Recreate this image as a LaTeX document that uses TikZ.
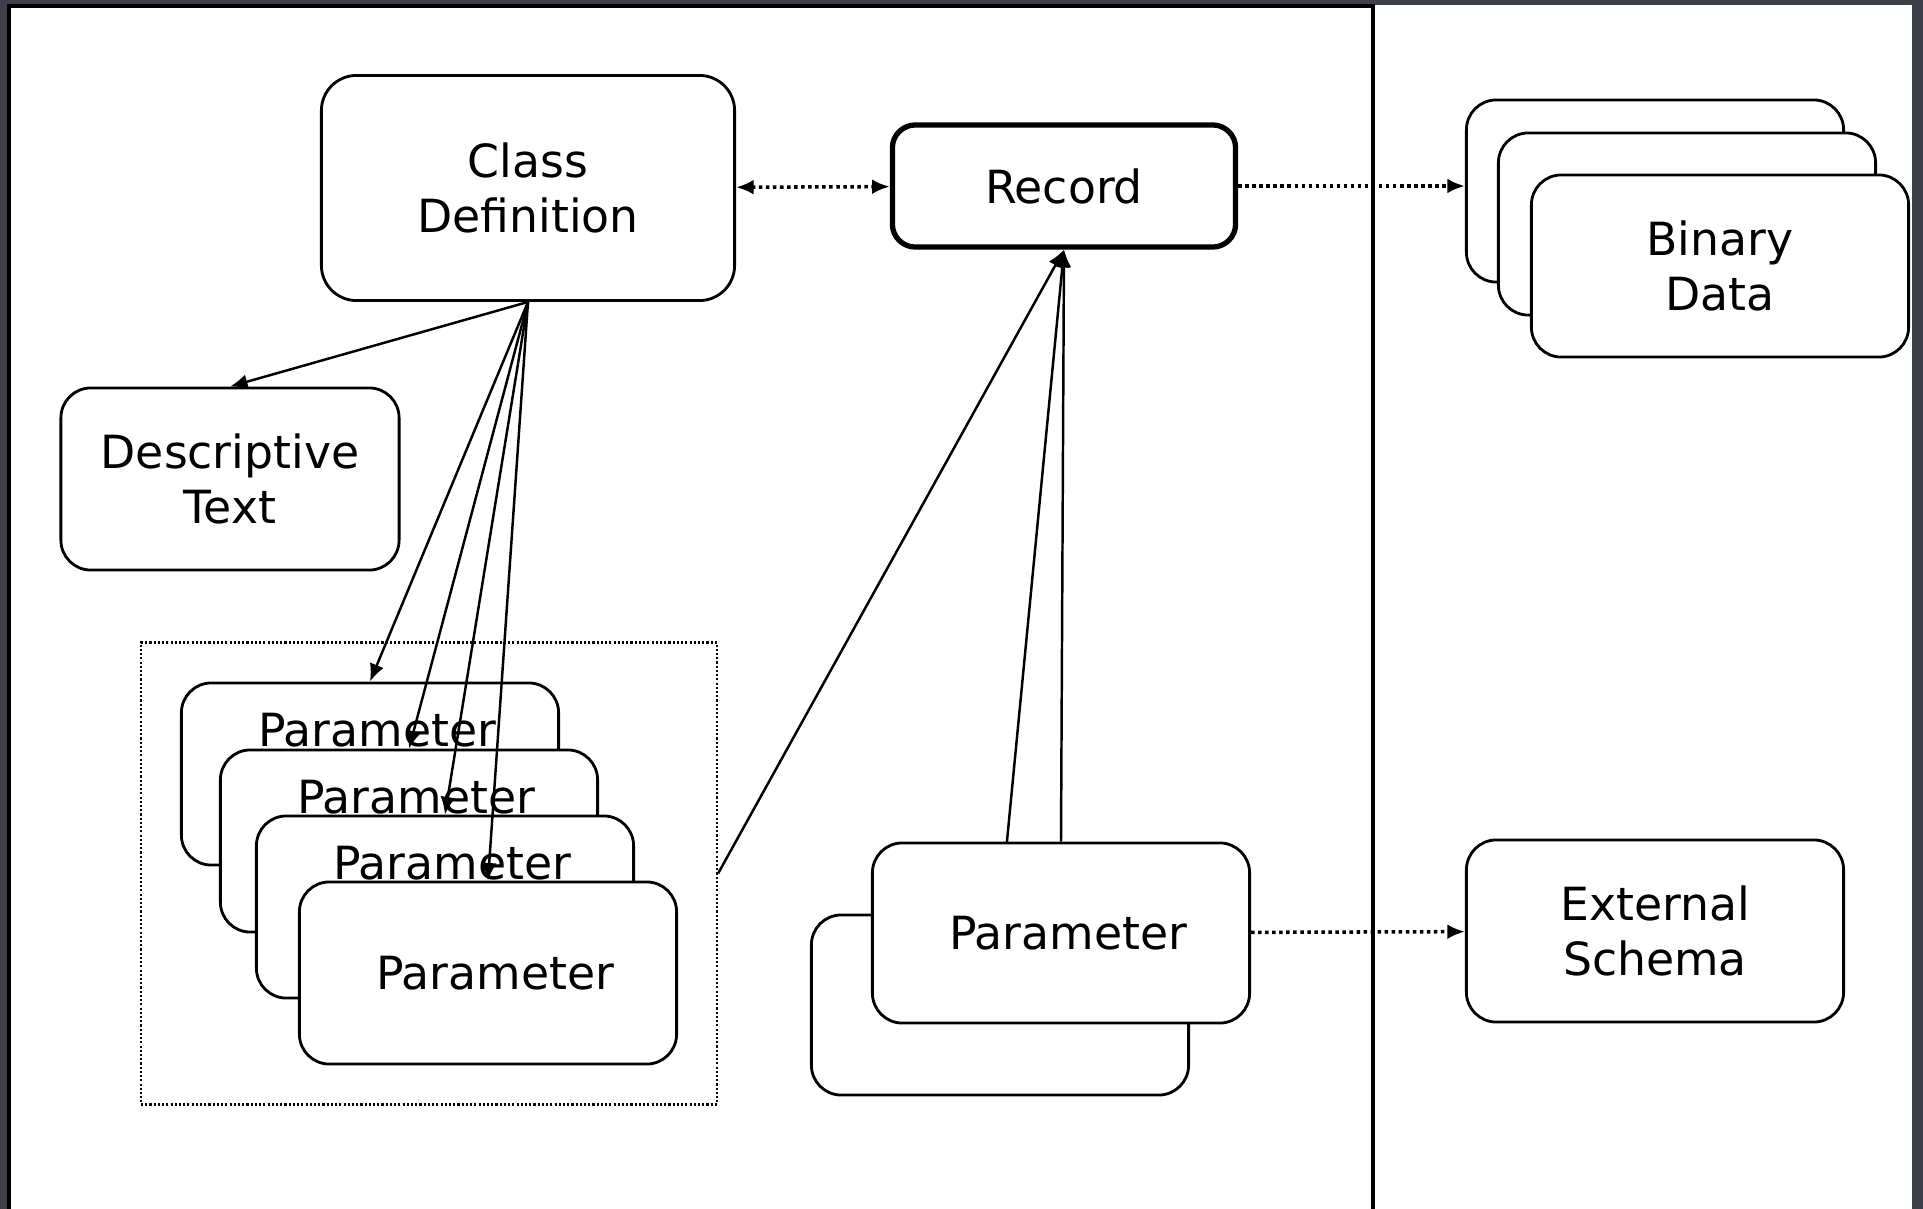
\documentclass[tikz,border=0pt]{standalone}
\usepackage{fontspec}
\setmainfont{DejaVu Sans}
\usetikzlibrary{arrows.meta,positioning,fit,calc}
\definecolor{slate}{RGB}{62,64,74}
\tikzset{
  mbox/.style={draw, rounded corners=8.5pt, line width=0.8pt, fill=white, align=center, minimum width=3.77cm, minimum height=1.82cm, inner sep=2pt, font=\fontsize{13pt}{15.5pt}\selectfont},
  mrec/.style={mbox, line width=1.5pt, rounded corners=6.5pt, minimum width=3.43cm, minimum height=1.22cm},
  mclass/.style={mbox, rounded corners=10pt, minimum width=4.13cm, minimum height=2.25cm},
  mparam/.style={mbox, execute at begin node=\hspace*{0.14cm}},
  mtop/.style={text height=0.33cm, text depth=0.87cm},
  marrow/.style={-{Latex[length=5pt,width=4.2pt]}, line width=0.7pt},
  mlink/.style={marrow, line width=1pt, dash pattern=on 1pt off 1pt},
  mboth/.style={mlink, {Latex[length=5pt,width=4.2pt]}-{Latex[length=5pt,width=4.2pt]}},
  mgroup/.style={draw, line width=0.6pt, dash pattern=on 0.6pt off 0.6pt, inner sep=0.39cm},
  mpanel/.style={draw, line width=0.9pt}
}

\begin{document}
\begin{tikzpicture}[x=0.01cm, y=-0.01cm]
\useasboundingbox (0,0) rectangle (1923,1209);
\fill[slate] (0,0) rectangle (1923,1209);
\fill[white] (9,5) rectangle (1912,1230);
\draw[mpanel] (1373,1230) -- (1373,6) -- (9,6) -- (9,1230);

% class side
\node[mclass] (classdef) at (528,188) {Class\\Definition};
\node[mrec] (record) at (1064,186) {Record};
\node[mbox, minimum width=3.38cm] (desc) at (230,479) {Descriptive\\Text};

% stacked parameters
\node[mparam, mtop] (p1) at (370,774) {Parameter};
\node[mparam, mtop] (p2) at (409,841) {Parameter};
\node[mparam, mtop] (p3) at (445,907) {Parameter};
\node[mparam] (p4) at (488,973) {Parameter};
\node[mgroup, fit=(p1)(p2)(p3)(p4)] (params) {};

\node[mbox, minimum height=1.80cm] (pback) at (1000,1005) {};
\draw[marrow] (pback.north) -- (record.south);
\node[mparam, minimum height=1.80cm] (pfront) at (1061,933) {Parameter};
\draw[marrow] (pfront.north) -- (record.south);
\draw[marrow] (params.east) -- (record.south);

\foreach \p in {desc,p1,p2,p3,p4}
  \draw[marrow] (classdef.south) -- (\p.north);

% data side
\node[mbox] (bin1) at (1655,191) {};
\node[mbox] (bin2) at (1687,224) {};
\node[mbox] (bin3) at (1720,266) {Binary\\Data};
\node[mbox] (ext) at (1655,931) {External\\Schema};

\draw[mboth] (classdef) -- (record);
\draw[mlink] (record) -- (record -| bin1.west);
\draw[mlink] (pfront) -- (ext);
\end{tikzpicture}
\end{document}
